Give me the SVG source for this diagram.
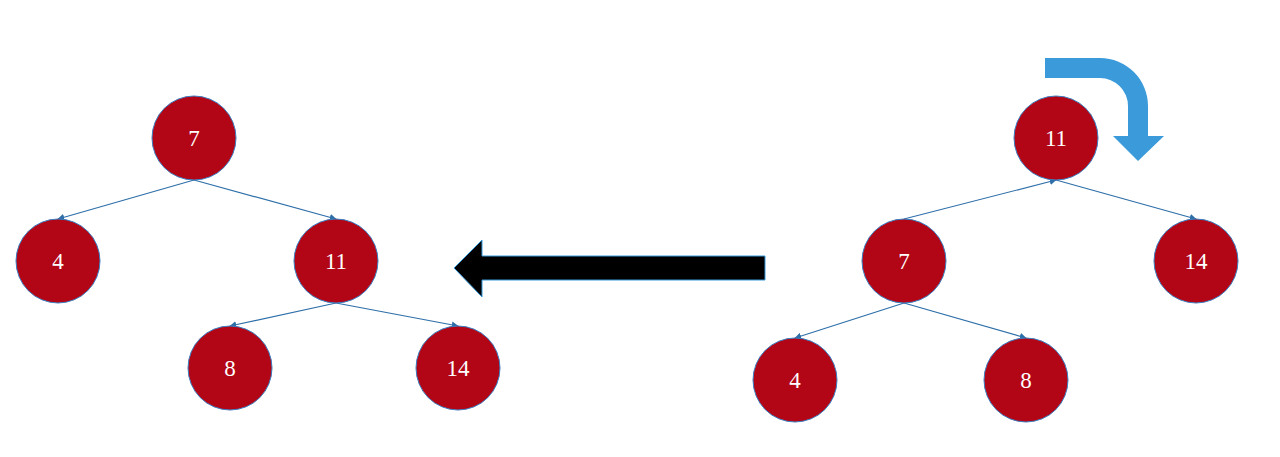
<svg xmlns="http://www.w3.org/2000/svg" width="1280" height="457" viewBox="0 0 1280 457">
<style>
.n circle{fill:#B20617;stroke:#3B7DC0;stroke-width:1}
.n text{fill:#fff;font-family:"Liberation Serif",serif;font-size:23px;text-anchor:middle;dominant-baseline:central}
.e line{stroke:#2E6FA8;stroke-width:1.2;marker-end:url(#ah)}
</style>
<defs>
<marker id="ah" viewBox="0 0 10 10" refX="9" refY="5" markerWidth="7" markerHeight="7" markerUnits="userSpaceOnUse" orient="auto"><path d="M0,0 L10,5 L0,10 Z" fill="#2E6FA8"/></marker>
</defs>
<rect width="1280" height="457" fill="#fff"/>
<g id="connectors" class="e">
<line x1="194" y1="180" x2="58" y2="219"/>
<line x1="194" y1="180" x2="336" y2="219"/>
<line x1="336" y1="303" x2="230" y2="326"/>
<line x1="336" y1="303" x2="458" y2="326"/>
<line x1="904" y1="219" x2="1056" y2="180"/>
<line x1="1056" y1="180" x2="1196" y2="219"/>
<line x1="904" y1="303" x2="795" y2="338"/>
<line x1="904" y1="303" x2="1026" y2="338"/>
</g>
<g id="bigarrow"><path d="M765,256 H482 V240 L454,268 L482,297 V280 H765 Z" fill="#000" stroke="#3A9ADA" stroke-width="1"/></g>
<g id="rotarrow"><path d="M1045,58 H1100 A48,48 0 0 1 1148,106 V136 H1164 L1138,161 L1113,136 H1128 V106 A28,28 0 0 0 1100,78 H1045 Z" fill="#3A9ADA"/></g>
<g id="L7" class="n"><circle cx="194" cy="138" r="42"/><text x="194" y="138">7</text></g>
<g id="L4" class="n"><circle cx="58" cy="261" r="42"/><text x="58" y="261">4</text></g>
<g id="L11" class="n"><circle cx="336" cy="261" r="42"/><text x="336" y="261">11</text></g>
<g id="L8" class="n"><circle cx="230" cy="368" r="42"/><text x="230" y="368">8</text></g>
<g id="L14" class="n"><circle cx="458" cy="368" r="42"/><text x="458" y="368">14</text></g>
<g id="R11" class="n"><circle cx="1056" cy="138" r="42"/><text x="1056" y="138">11</text></g>
<g id="R7" class="n"><circle cx="904" cy="261" r="42"/><text x="904" y="261">7</text></g>
<g id="R14" class="n"><circle cx="1196" cy="261" r="42"/><text x="1196" y="261">14</text></g>
<g id="R4" class="n"><circle cx="795" cy="380" r="42"/><text x="795" y="380">4</text></g>
<g id="R8" class="n"><circle cx="1026" cy="380" r="42"/><text x="1026" y="380">8</text></g>
</svg>
